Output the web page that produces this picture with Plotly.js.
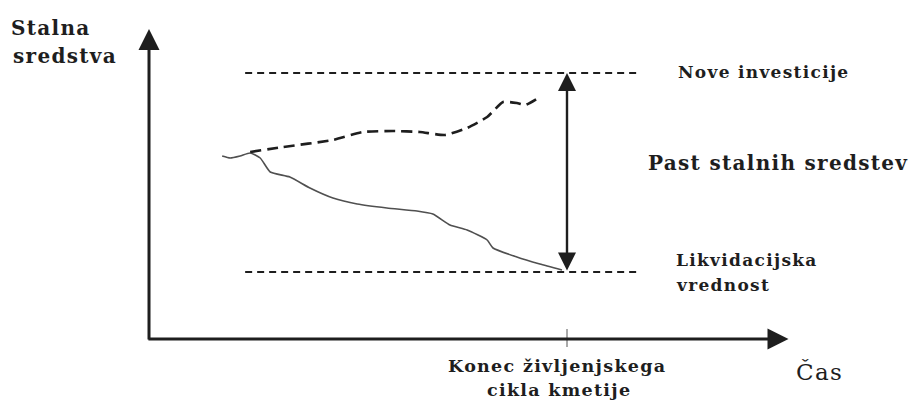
<!DOCTYPE html>
<html>
<head>
<meta charset="utf-8">
<script src="https://cdn.plot.ly/plotly-3.0.1.min.js"></script>
<style>
html, body { margin: 0; padding: 0; background: #fff; }
#chart { width: 923px; height: 400px; }
.annotation-text { letter-spacing: 1.3px; }
</style>
</head>
<body>
<div id="chart"></div>
<script>
// ---- data (time in arbitrary units, value in arbitrary units) ----
const timeSolid  = [1.75, 1.94, 2.18, 2.42, 2.66, 2.90, 3.37, 3.85, 4.40, 4.98, 5.69, 6.41, 6.79, 7.20, 7.61, 8.09, 8.23, 8.80, 9.35, 9.88];
const valueSolid = [91.5, 90.5, 91.5, 93.0, 90.5, 83.5, 81.0, 75.5, 70.5, 67.5, 65.5, 64.0, 62.5, 57.0, 54.5, 49.5, 45.5, 41.0, 37.5, 34.5];
const timeDashed  = [2.42, 3.21, 4.40, 5.12, 5.84, 6.48, 7.08, 7.61, 8.09, 8.47, 8.80, 9.00, 9.35];
const valueDashed = [93.5, 96.0, 99.5, 103.5, 104.0, 103.5, 102.0, 105.5, 111.0, 118.5, 118.0, 117.0, 121.0];
const levelTimes = [2.30, 11.77];
const newInvestment = 133;
const liquidationValue = 33.5;
const endOfLife = 10;
const yLabelLines = ["Stalna", "sredstva"];
const xLabel = "Čas";
const labelNew = "Nove investicije";
const labelGap = "Past stalnih sredstev";
const labelLiq = ["Likvidacijska", "vrednost"];
const labelEnd = ["Konec življenjskega", "cikla kmetije"];

const ink = '#1e1e1e';
const serif = '"DejaVu Serif", "Liberation Serif", serif';

const traces = [
  { x: levelTimes, y: [newInvestment, newInvestment], mode: 'lines',
    line: { color: ink, width: 2, dash: '7px,5px' }, hoverinfo: 'skip' },
  { x: levelTimes, y: [liquidationValue, liquidationValue], mode: 'lines',
    line: { color: ink, width: 2, dash: '7px,5px' }, hoverinfo: 'skip' },
  { x: timeSolid, y: valueSolid, mode: 'lines',
    line: { color: '#505050', width: 1.6, shape: 'spline', smoothing: 0.5 }, hoverinfo: 'skip' },
  { x: timeDashed, y: valueDashed, mode: 'lines',
    line: { color: ink, width: 2.6, dash: '11px,6px', shape: 'spline', smoothing: 0.5 }, hoverinfo: 'skip' },
  { x: [endOfLife, endOfLife], y: [5, -4], mode: 'lines',
    line: { color: '#555', width: 1 }, hoverinfo: 'skip' }
];

function txt(text, x, y, size, anchor, family, plain) {
  return { text: plain ? text : '<b>' + text + '</b>', x: x, y: y, xref: 'x', yref: 'y',
    showarrow: false, xanchor: anchor, yanchor: 'middle',
    font: { family: family || serif, size: size, color: ink }, borderpad: 0 };
}
function arrow(x, y, ax, ay, w, size, side) {
  return { text: '', x: x, y: y, ax: ax, ay: ay, xref: 'x', yref: 'y', axref: 'x', ayref: 'y',
    showarrow: true, arrowhead: 2, arrowsize: size, arrowwidth: w, arrowcolor: ink,
    arrowside: side || 'end', standoff: 0, startstandoff: 0 };
}

const annotations = [
  arrow(0, 155, 0, -1, 3, 1.4),
  arrow(15.3, 0, -0.05, 0, 3, 1.4),
  arrow(endOfLife, newInvestment, endOfLife, liquidationValue, 2.4, 1.5, 'end+start'),
  txt(yLabelLines[0], -3.32, 155.5, 20, 'left'),
  txt(yLabelLines[1], -3.28, 141.5, 20, 'left'),
  txt(labelNew, 12.63, 133.5, 17, 'left'),
  txt(labelGap, 11.91, 88, 20, 'left'),
  txt(labelLiq[0], 12.58, 39.5, 17, 'left'),
  txt(labelLiq[1], 12.58, 27, 17, 'left'),
  txt(labelEnd[0], 9.76, -13.5, 17.5, 'center'),
  txt(labelEnd[1], 9.80, -25.5, 17.5, 'center'),
  txt(xLabel, 15.45, -16.5, 23, 'left', '"DejaVu Serif", "Liberation Serif", serif', true)
];

const layout = {
  width: 923, height: 400,
  margin: { l: 0, r: 0, t: 0, b: 0 },
  paper_bgcolor: '#fff', plot_bgcolor: '#fff',
  showlegend: false,
  xaxis: { range: [-3.565, 18.517], visible: false, fixedrange: true },
  yaxis: { range: [-30.5, 169.5], visible: false, fixedrange: true },
  annotations: annotations
};

Plotly.newPlot('chart', traces, layout, { staticPlot: true, displayModeBar: false });
</script>
</body>
</html>
